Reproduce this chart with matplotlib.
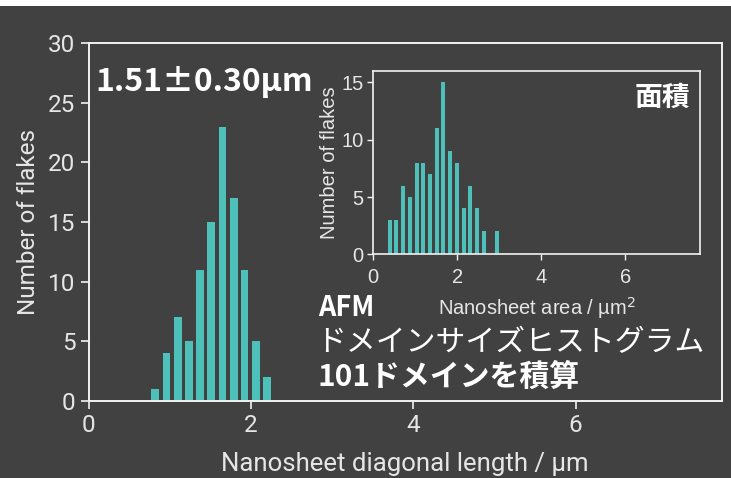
import matplotlib
matplotlib.use("Agg")
import matplotlib.pyplot as plt
from matplotlib.patches import Rectangle

# Diagonal length histogram (bin centres in µm, counts)
length_centers = [0.82, 0.96, 1.10, 1.24, 1.37, 1.51, 1.65, 1.79, 1.92, 2.06, 2.20]
length_counts = [1, 4, 7, 5, 11, 15, 23, 17, 11, 5, 2]

# Area histogram (bin centres in µm², counts)
area_centers = [0.39, 0.55, 0.71, 0.87, 1.03, 1.19, 1.35, 1.51, 1.67, 1.83,
                1.99, 2.15, 2.31, 2.47, 2.63, 2.79, 2.95]
area_counts = [3, 3, 6, 5, 8, 8, 7, 11, 15, 9, 8, 4, 6, 4, 2, 0, 2]

main_xticks = [0, 2, 4, 6]
main_yticks = [0, 5, 10, 15, 20, 25, 30]
inset_xticks = [0, 2, 4, 6]
inset_yticks = [0, 5, 10, 15]

BG = "#414141"
BAR = "#4cc0b9"
FG = "#f2f2f2"
TXT = "#e6e6e6"

JP = ["Noto Sans CJK JP", "DejaVu Sans"]

fig = plt.figure(figsize=(7.31, 4.78), dpi=100)
fig.patch.set_facecolor("white")
fig.add_artist(Rectangle((0, 0), 1, 1 - 6 / 478, transform=fig.transFigure,
                         facecolor=BG, edgecolor="none", zorder=-10))

# Main axes
ax = fig.add_axes([88.6 / 731, 1 - 401 / 478, (721.7 - 88.6) / 731, (401 - 43) / 478])
ax.set_facecolor("none")
ax.bar(length_centers, length_counts, width=0.097, color=BAR, edgecolor="none")
ax.set_xlim(0, 7.8)
ax.set_ylim(0, 30)
ax.set_xticks(main_xticks)
ax.set_yticks(main_yticks)
for s in ax.spines.values():
    s.set_color(FG)
    s.set_linewidth(1.4)
ax.tick_params(colors=FG, labelcolor=TXT, length=6, width=1.2, direction="out")
for lab in ax.get_xticklabels() + ax.get_yticklabels():
    lab.set_fontfamily("Roboto")
    lab.set_fontsize(17.5)
ax.set_xlabel("Nanosheet diagonal length / µm", fontsize=18.5, family="Roboto",
              color=TXT, labelpad=11)
ax.set_ylabel("Number of flakes", fontsize=17.5, family="Roboto", color=TXT, labelpad=6)

# Inset axes (area histogram)
ins = fig.add_axes([373.3 / 731, 1 - 254.3 / 478, (700 - 373.3) / 731, (254.3 - 71) / 478])
ins.set_facecolor("none")
ins.bar(area_centers, area_counts, width=0.095, color=BAR, edgecolor="none")
ins.set_xlim(0, 7.78)
ins.set_ylim(0, 16)
ins.set_xticks(inset_xticks)
ins.set_yticks(inset_yticks)
for s in ins.spines.values():
    s.set_color(FG)
    s.set_linewidth(1.2)
ins.tick_params(colors=FG, labelcolor=TXT, length=4, width=1.0, direction="out", pad=3)
ins.tick_params(axis="x", pad=6)
for lab in ins.get_xticklabels() + ins.get_yticklabels():
    lab.set_fontfamily("Liberation Sans")
    lab.set_fontsize(14.5)
ins.set_xlabel("Nanosheet area / µm$^2$", fontsize=14.5, family="Liberation Sans",
               color=TXT, labelpad=6)
ins.set_ylabel("Number of flakes", fontsize=14.5, family="Liberation Sans",
               color=TXT, labelpad=2)
ins.text(0.97, 0.93, "面積", transform=ins.transAxes, ha="right", va="top",
         fontsize=20, family=JP, fontweight="bold", color="white")

# Annotations
fig.text(95 / 731, 1 - 82 / 478, "1.51±0.30µm", ha="left", va="center",
         fontsize=23, family=JP, fontweight="bold", color="white")
fig.text(318 / 731, 1 - 308 / 478, "AFM", ha="left", va="center",
         fontsize=19.5, family=JP, fontweight="bold", color="white")
fig.text(316 / 731, 1 - 343 / 478, "ドメインサイズヒストグラム", ha="left", va="center",
         fontsize=21.5, family=JP, color="white")
fig.text(318 / 731, 1 - 377 / 478, "101ドメインを積算", ha="left", va="center",
         fontsize=21.5, family=JP, fontweight="bold", color="white")

fig.savefig("out.png", dpi=100, facecolor=fig.get_facecolor())
